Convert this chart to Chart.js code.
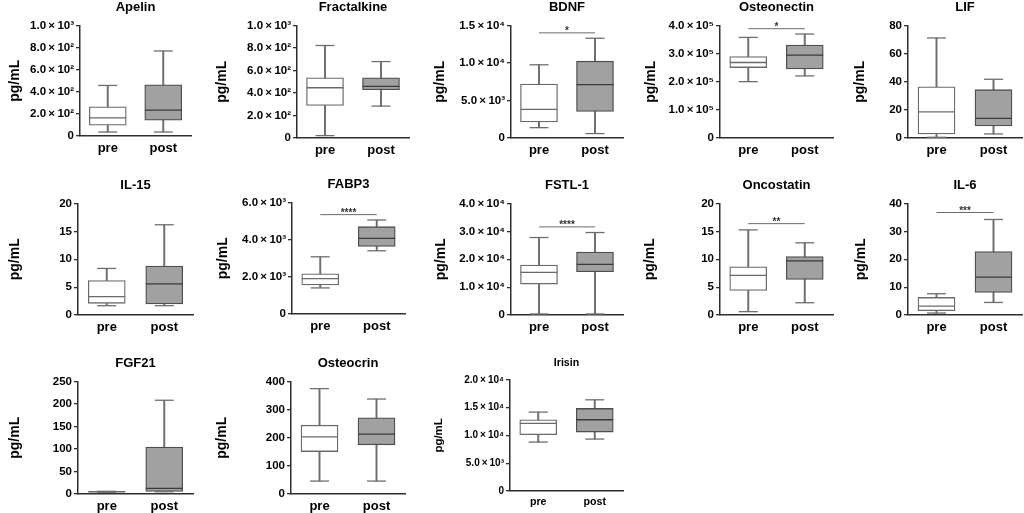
<!DOCTYPE html>
<html>
<head>
<meta charset="utf-8">
<script src="https://cdn.jsdelivr.net/npm/chart.js@4.4.1/dist/chart.umd.min.js"></script>
<style>
html,body{margin:0;padding:0;background:#fff;overflow:hidden}
#wrap{position:relative;width:1024px;height:513px;background:#fff}
canvas{position:absolute}
</style>
</head>
<body>
<div id="wrap"></div>
<script>
// ---------------- DATA ----------------
const PANELS = ['Apelin','Fractalkine','BDNF','Osteonectin','LIF','IL-15','FABP3','FSTL-1','Oncostatin','IL-6','FGF21','Osteocrin','Irisin'];
const GROUPS = ['pre','post'];

const PRE_MIN  = [36,   21,   1380, 200500, 0.5,  1.67, 1405, 360,   0.6,  0.7,  4,   46,  8800];
const PRE_Q1   = [97,   290,  2130, 250700, 2.9,  2.1,  1568, 11100, 4.42, 1.55, 4.5, 151, 10120];
const PRE_MED  = [164,  447,  3820, 268600, 18.6, 3.3,  1910, 15280, 7.1,  3.2,  5,   203, 12160];
const PRE_Q3   = [264,  536,  7190, 290000, 36.5, 6.2,  2162, 17910, 8.66, 6.3,  5.5, 245, 12810];
const PRE_MAX  = [458,  823,  9770, 358000, 71.2, 8.36, 3081, 27820, 15.28,7.64, 6,   375, 14190];

const POST_MIN = [36,   284,  590,  221000, 2.9,  1.67, 3405, 360,   2.2,  4.5,  5,   46,  9340];
const POST_Q1  = [143,  429,  3550, 246000, 8.6,  2.0,  3640, 15520, 6.39, 8.1,  5.9, 175, 10600];
const POST_MED = [234,  459,  7110, 295000, 13.9, 5.6,  4072, 18150, 9.73, 13.6, 12.6,213, 12810];
const POST_Q3  = [464,  536,  10250,331000, 34.4, 8.8,  4703, 22570, 10.5, 22.8, 104.6,271,14850];
const POST_MAX = [770,  680,  13310,370000, 41.8, 16.2, 5063, 29610, 12.96,34.3, 208.5,338,16400];

const Y_MAX  = [1000, 1000, 15000, 400000, 80, 20, 6000, 40000, 20, 40, 250, 400, 20000];
const Y_STEP = [200,  200,  5000,  100000, 20, 5,  2000, 10000, 5,  10, 50,  100, 5000];
const SCI    = [true, true, true,  true,  false,false,true,true, false,false,false,false,true];

const SIG_VALUE = [null, null, 14030, 389000, null, null, 5351, 31640, 16.4, 36.8, null, null, null];
const SIG_LABEL = [null, null, '*',   '*',    null, null, '****','****','**', '***', null, null, null];

// ---------------- LAYOUT (positions in page px) ----------------
// [axisX, plotTop, plotBottom, plotWidth, yTitleCenterX]
const LAYOUT = [
  [80, 25.8, 135.7, 111, 15],
  [297, 25.5, 137.5, 112, 222],
  [511, 25.2, 137.7, 112, 440],
  [720, 26, 137.7, 113, 651],
  [908, 26, 137.7, 114, 860],
  [78, 203.3, 315, 115, 15],
  [292, 202.3, 313.5, 113, 223],
  [511, 203.3, 315, 112, 441],
  [720, 203.3, 315, 113, 650],
  [908, 203.3, 315, 114, 861],
  [78, 381.7, 494, 115, 15],
  [291, 381.7, 494, 114, 222],
  [510, 379.3, 490.7, 113, 439]
];

const FONT = '"Liberation Sans", Arial, Helvetica, sans-serif';
const SUP = ['⁰','¹','²','³','⁴','⁵','⁶','⁷','⁸','⁹'];
function sup(n){ return String(n).split('').map(d => SUP[+d]).join(''); }
function sciLabel(v){
  if (v === 0) return '0';
  const e = Math.floor(Math.log10(v) + 1e-9);
  const m = v / Math.pow(10, e);
  return m.toFixed(1) + '\u2009×\u200910' + sup(e);
}

const wrap = document.getElementById('wrap');

PANELS.forEach((name, i) => {
  const [axisX, plotTop, plotBottom, plotW, labelX] = LAYOUT[i];
  const small = name === 'Irisin';
  const f = small ? 0.82 : 1;
  const titleSize = 13 * f, labelSize = 14 * f, tickSize = small ? 10 : 11.5, xSize = 13 * f;
  const titlePadB = 10;
  const titleH = titleSize * 1.2 + titlePadB;
  const halfLab = labelSize * 1.2 / 2;
  const cl = Math.round(labelX - halfLab);
  const ct = Math.round(plotTop - titleH);
  const yW = axisX - cl;
  const xH = 24;
  const padR = 3;
  const cw = Math.round(axisX + plotW - cl + padR);
  const ch = Math.round(plotBottom - ct + xH);

  const cv = document.createElement('canvas');
  cv.width = cw; cv.height = ch;
  cv.style.left = cl + 'px'; cv.style.top = ct + 'px';
  cv.style.width = cw + 'px'; cv.style.height = ch + 'px';
  wrap.appendChild(cv);

  const datasets = [];
  if (SIG_VALUE[i] !== null) {
    datasets.push({
      type: 'line', data: [SIG_VALUE[i], SIG_VALUE[i]],
      borderColor: '#6a6a6a', borderWidth: 1, pointRadius: 0, fill: false, clip: false
    });
  }
  datasets.push({
    type: 'line', data: [PRE_MED[i], POST_MED[i]], showLine: false,
    pointStyle: 'line', pointRadius: 18.4, pointBorderWidth: 1.3,
    pointBorderColor: ['#6a6a6a', '#3a3a3a'], clip: false
  });
  datasets.push({
    type: 'line', data: [PRE_MAX[i], POST_MAX[i]], showLine: false,
    pointStyle: 'line', pointRadius: 9.5, pointBorderWidth: 1.3,
    pointBorderColor: '#6e6e6e', clip: false
  });
  datasets.push({
    type: 'line', data: [PRE_MIN[i], POST_MIN[i]], showLine: false,
    pointStyle: 'line', pointRadius: 9.5, pointBorderWidth: 1.3,
    pointBorderColor: '#6e6e6e', clip: false
  });
  datasets.push({
    type: 'bar', data: [[PRE_Q1[i], PRE_Q3[i]], [POST_Q1[i], POST_Q3[i]]],
    backgroundColor: ['#ffffff', '#a1a1a1'], borderColor: ['#6a6a6a', '#4e4e4e'],
    borderWidth: 1.3, borderSkipped: false, barThickness: 37, grouped: false
  });
  datasets.push({
    type: 'bar', data: [[PRE_MIN[i], PRE_MAX[i]], [POST_MIN[i], POST_MAX[i]]],
    backgroundColor: '#6e6e6e', borderWidth: 0, barThickness: 1.3, grouped: false
  });

  const sigPlugin = {
    id: 'sig' + i,
    afterDatasetsDraw(chart) {
      if (SIG_VALUE[i] === null) return;
      const xs = chart.scales.x, ys = chart.scales.y, ctx = chart.ctx;
      const x = (xs.getPixelForValue(0) + xs.getPixelForValue(1)) / 2;
      const y = ys.getPixelForValue(SIG_VALUE[i]);
      ctx.save();
      ctx.font = 'bold 10px ' + FONT;
      ctx.fillStyle = '#333';
      ctx.textAlign = 'center';
      ctx.textBaseline = 'alphabetic';
      ctx.fillText(SIG_LABEL[i], x, y + 1.5);
      ctx.restore();
    }
  };

  new Chart(cv, {
    type: 'bar',
    data: { labels: GROUPS, datasets },
    options: {
      responsive: false,
      animation: false,
      events: [],
      devicePixelRatio: 1,
      layout: { autoPadding: false, padding: { left: 0, top: 0, right: padR, bottom: 0 } },
      plugins: {
        legend: { display: false },
        tooltip: { enabled: false },
        title: {
          display: true, text: name, fullSize: false, color: '#000',
          font: { family: FONT, size: titleSize, weight: 'bold', lineHeight: 1.2 },
          padding: { top: 0, bottom: titlePadB }
        }
      },
      scales: {
        x: {
          type: 'category', offset: true,
          grid: { display: false, drawTicks: false },
          border: { display: true, color: '#2e2e2e', width: 1.5 },
          ticks: { color: '#000', padding: 5, font: { family: FONT, size: xSize, weight: 'bold' } },
          afterFit: (s) => { s.height = xH; }
        },
        y: {
          type: 'linear', min: 0, max: Y_MAX[i],
          grid: { display: true, drawOnChartArea: false, drawTicks: true, tickLength: 4, color: '#2e2e2e', lineWidth: 1.3 },
          border: { display: true, color: '#2e2e2e', width: 1.5 },
          ticks: {
            stepSize: Y_STEP[i], autoSkip: false, color: '#000', padding: 2,
            font: { family: FONT, size: tickSize, weight: 'bold' },
            callback: (v) => SCI[i] ? sciLabel(v) : String(v)
          },
          title: {
            display: true, text: 'pg/mL', color: '#000',
            font: { family: FONT, size: labelSize, weight: 'bold', lineHeight: 1.2 },
            padding: { top: 0, bottom: 0 }
          },
          afterFit: (s) => { s.width = yW; }
        }
      }
    },
    plugins: [sigPlugin]
  });
});
</script>
</body>
</html>
